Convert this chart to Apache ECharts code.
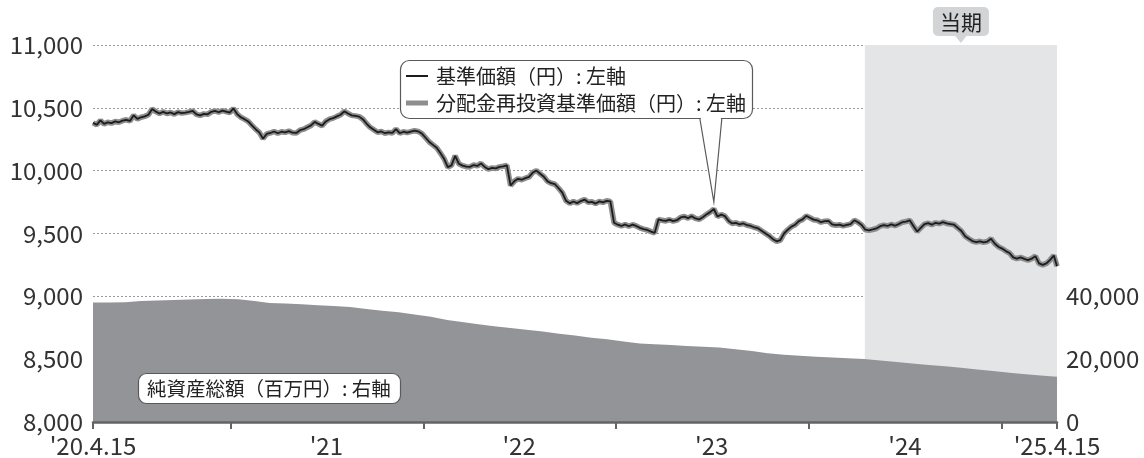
<!DOCTYPE html>
<html>
<head>
<meta charset="utf-8">
<script src="https://cdn.jsdelivr.net/npm/echarts@6/dist/echarts.min.js"></script>
<style>
  html, body { margin: 0; padding: 0; background: #fff; }
  #chart { width: 1144px; height: 458px; }
</style>
</head>
<body>
<div id="chart"></div>
<script>
// ---- data ----
const startDate = '2020-04-15';
const endDate = '2025-04-15';
const periodStart = '2024-04-16';           // 当期 (current period) start

// 基準価額 (円), weekly from startDate
const navWeekly = [
  10380, 10365, 10400, 10372, 10385, 10378, 10392, 10385, 10398,
  10405, 10396, 10440, 10412, 10425, 10432, 10445, 10490, 10470, 10455,
  10468, 10455, 10463, 10450, 10466, 10458, 10462, 10468, 10475, 10448,
  10440, 10452, 10448, 10468, 10475, 10465, 10478, 10470, 10462, 10495,
  10450, 10425, 10410, 10392, 10360, 10330, 10305, 10255, 10292, 10300,
  10312, 10298, 10310, 10305, 10315, 10302, 10300, 10322, 10330, 10345,
  10360, 10388, 10372, 10358, 10392, 10410, 10418, 10432, 10445, 10472,
  10455, 10440, 10436, 10430, 10410, 10375, 10345, 10325, 10305, 10312,
  10298, 10305, 10300, 10330, 10298, 10310, 10302, 10310, 10318, 10312,
  10295, 10262, 10228, 10205, 10182, 10140, 10095, 10028, 10042, 10118,
  10055, 10040, 10032, 10030, 10045, 10038, 10058, 10030, 10012, 10022,
  10018, 10030, 10035, 10042, 9882, 9915, 9935, 9928, 9940, 9950,
  9985, 10000, 9975, 9952, 9915, 9900, 9892, 9860, 9825, 9760,
  9740, 9755, 9742, 9758,
  9770, 9748, 9752, 9738, 9755, 9748, 9760,
  9755, 9585, 9570, 9560, 9572, 9558, 9570, 9560, 9545, 9535,
  9528, 9515, 9505, 9612, 9605, 9600, 9610, 9598, 9606, 9628,
  9635, 9622, 9638, 9620, 9612, 9630, 9652, 9670, 9695, 9635,
  9650, 9638, 9600, 9580, 9585, 9572, 9580, 9566, 9560, 9548,
  9540, 9520, 9500, 9480, 9455, 9438, 9448, 9500, 9530, 9555,
  9570, 9598, 9612, 9640, 9625, 9610, 9605, 9590, 9598, 9600,
  9572, 9566, 9570, 9560, 9568, 9575, 9605, 9590, 9568, 9530,
  9525, 9532, 9540, 9558, 9566, 9560, 9572, 9562, 9575, 9590,
  9595, 9605, 9560, 9515, 9545, 9575, 9582, 9570, 9585, 9578,
  9590, 9580, 9575, 9570, 9545, 9520, 9478, 9458, 9440, 9432,
  9438, 9430, 9436, 9458, 9420, 9395, 9380, 9360, 9345, 9310,
  9300, 9310, 9298, 9288, 9300, 9320, 9262, 9250, 9262, 9290,
  9325, 9240
];

// 分配金再投資基準価額 (円): no distributions were paid, so it equals the NAV
const reinvestedWeekly = navWeekly.slice();

// 純資産総額 (百万円), monthly on the 15th from startDate
const netAssetsMonthly = [
  38000, 38050, 38100, 38500, 38700, 38850, 39000, 39150, 39250, 39100,
  38500, 37900, 37750, 37450, 37150, 36950, 36600, 35950, 35400, 34950,
  34200, 33500, 32500, 31800, 31150, 30500, 29900, 29350, 28800, 28100,
  27500, 26800, 26350, 25600, 25000, 24750, 24500, 24200, 23950, 23700,
  23150, 22600, 21900, 21400, 21050, 20800, 20550, 20300, 20050, 19600,
  19100, 18600, 18150, 17750, 17250, 16700, 16200, 15700, 15200, 14800,
  14400
];

// x-axis tick marks and labels
const tickDates = ['2020-04-15', '2021-01-01', '2022-01-01', '2023-01-01', '2024-01-01', '2025-01-01', '2025-04-15'];
const labelDates = ['2020-04-15', '2021-07-01', '2022-07-01', '2023-07-01', '2024-07-01', '2025-04-15'];
const labelTexts = ["'20.4.15", "'21", "'22", "'23", "'24", "'25.4.15"];
const rightLabelValues = [0, 20000, 40000];

// ---- helpers ----
const FONT = '"Noto Sans CJK JP", "Noto Sans", sans-serif';
function ts(s) { const [y, m, d] = s.split('-').map(Number); return Date.UTC(y, m - 1, d); }
const tStart = ts(startDate), tEnd = ts(endDate);
const [sy, sm, sd] = startDate.split('-').map(Number);

const navDates = navWeekly.map((_, i) => Math.min(Date.UTC(sy, sm - 1, sd + 7 * i), tEnd));
const navData = navWeekly.map((v, i) => [navDates[i], v]);
const reinvestedData = reinvestedWeekly.map((v, i) => [navDates[i], v]);
const netAssetsData = netAssetsMonthly.map((v, i) => [Date.UTC(sy, sm - 1 + i, sd), v]);

const labelMap = {};
labelDates.forEach((d, i) => { labelMap[ts(d)] = labelTexts[i]; });
const fmt = v => v.toLocaleString('en-US');

const chart = echarts.init(document.getElementById('chart'), null, { renderer: 'canvas' });

const AXIS_FONT = 24;

chart.setOption({
  animation: false,
  backgroundColor: '#fff',
  textStyle: { fontFamily: FONT },
  grid: { left: 93, right: 87, top: 45, bottom: 35, containLabel: false },
  xAxis: {
    // dates as UTC milliseconds on a linear axis
    type: 'value',
    min: tStart,
    max: tEnd,
    z: 5,
    axisLine: { show: true, lineStyle: { color: '#646464', width: 2.5 } },
    axisTick: {
      show: true,
      customValues: tickDates.map(ts),
      length: 7,
      lineStyle: { color: '#646464', width: 2 }
    },
    axisLabel: {
      customValues: labelDates.map(ts),
      formatter: v => labelMap[v] || '',
      fontSize: AXIS_FONT,
      color: '#333',
      margin: 12,
      fontFamily: FONT
    },
    splitLine: { show: false }
  },
  yAxis: [
    {
      type: 'value',
      min: 8000,
      max: 11000,
      interval: 500,
      position: 'left',
      z: 1,
      axisLine: { show: false },
      axisTick: { show: false },
      axisLabel: { formatter: fmt, fontSize: AXIS_FONT, color: '#333', margin: 10, fontFamily: FONT },
      splitLine: { show: true, lineStyle: { color: '#9a9a9a', width: 1, type: [2, 2] } }
    },
    {
      type: 'value',
      min: 0,
      max: 120000,
      interval: 20000,
      position: 'right',
      z: 1,
      axisLine: { show: false },
      axisTick: { show: false },
      axisLabel: { customValues: rightLabelValues, formatter: fmt, fontSize: AXIS_FONT, color: '#333', margin: 9, fontFamily: FONT },
      splitLine: { show: false }
    }
  ],
  series: [
    {
      // 当期 shading
      name: 'period',
      type: 'line',
      data: [],
      z: 0,
      silent: true,
      markArea: {
        silent: true,
        itemStyle: { color: '#e4e5e7' },
        data: [[{ xAxis: ts(periodStart) }, { xAxis: tEnd }]]
      }
    },
    {
      name: '純資産総額',
      type: 'line',
      yAxisIndex: 1,
      data: netAssetsData,
      symbol: 'none',
      z: 2,
      lineStyle: { width: 0 },
      areaStyle: { color: '#939498', opacity: 1 }
    },
    {
      name: '分配金再投資基準価額',
      type: 'line',
      yAxisIndex: 0,
      data: reinvestedData,
      symbol: 'none',
      z: 3,
      lineStyle: { color: '#8e8e8e', width: 5.5 }
    },
    {
      name: '基準価額',
      type: 'line',
      yAxisIndex: 0,
      data: navData,
      symbol: 'none',
      z: 4,
      lineStyle: { color: '#1c1c1c', width: 1.8 }
    }
  ]
});

// ---- annotations ----
// callout points at the 2023 high of the NAV
const winA = ts('2023-03-01'), winB = ts('2023-10-01');
let peakIdx = -1;
navData.forEach((p, i) => {
  if (p[0] >= winA && p[0] <= winB && (peakIdx < 0 || p[1] > navData[peakIdx][1])) peakIdx = i;
});
const tip = chart.convertToPixel({ xAxisIndex: 0, yAxisIndex: 0 }, navData[peakIdx]);

const p0 = chart.convertToPixel({ xAxisIndex: 0, yAxisIndex: 0 }, [ts(periodStart), 11000]);
const p1 = chart.convertToPixel({ xAxisIndex: 0, yAxisIndex: 0 }, [tEnd, 11000]);
const cx = (p0[0] + p1[0]) / 2;
const topY = p0[1];

const textStyle = (text, x, y, size, align) => ({
  text, x, y, fill: '#222', fontSize: size, fontFamily: FONT,
  align: align || 'left', verticalAlign: 'middle'
});

// legend box geometry
const LB = { x: 400.5, y: 60.5, w: 352, h: 58 };
const baseY = LB.y + LB.h;
const bx1 = tip[0] - 14, bx2 = tip[0] + 8, tipY = tip[1] - 7;

chart.setOption({
  graphic: [
    // legend callout
    {
      type: 'rect', z: 100,
      shape: { x: LB.x, y: LB.y, width: LB.w, height: LB.h, r: 9 },
      style: { fill: '#fff', stroke: '#5a5a5a', lineWidth: 1.2 }
    },
    {
      type: 'polygon', z: 101,
      shape: { points: [[bx1 + 0.8, baseY - 1.5], [tip[0], tipY], [bx2 - 0.8, baseY - 1.5]] },
      style: { fill: '#fff', stroke: null }
    },
    {
      type: 'polyline', z: 102,
      shape: { points: [[bx1, baseY], [tip[0], tipY], [bx2, baseY]] },
      style: { fill: null, stroke: '#5a5a5a', lineWidth: 1.2 }
    },
    { type: 'line', z: 102, shape: { x1: 406, y1: 76, x2: 428, y2: 76 }, style: { stroke: '#1c1c1c', lineWidth: 2 } },
    { type: 'text', z: 102, style: textStyle('基準価額（円）: 左軸', 436, 76, 20) },
    { type: 'line', z: 102, shape: { x1: 406, y1: 103, x2: 428, y2: 103 }, style: { stroke: '#8e8e8e', lineWidth: 5 } },
    { type: 'text', z: 102, style: textStyle('分配金再投資基準価額（円）: 左軸', 436, 103, 20) },

    // net assets label
    {
      type: 'rect', z: 100,
      shape: { x: 138.5, y: 373.5, width: 262, height: 30, r: 8 },
      style: { fill: '#fff', stroke: '#5a5a5a', lineWidth: 1.2 }
    },
    { type: 'text', z: 101, style: textStyle('純資産総額（百万円）: 右軸', 147, 389, 19.5) },

    // 当期 tag
    {
      type: 'rect', z: 100,
      shape: { x: cx - 28, y: 7, width: 56, height: 29, r: 5 },
      style: { fill: '#d3d4d6' }
    },
    {
      type: 'polygon', z: 100,
      shape: { points: [[cx - 6, 35.5], [cx, topY - 2], [cx + 6, 35.5]] },
      style: { fill: '#d3d4d6' }
    },
    { type: 'text', z: 101, style: textStyle('当期', cx, 22, 21, 'center') }
  ]
});
</script>
</body>
</html>
